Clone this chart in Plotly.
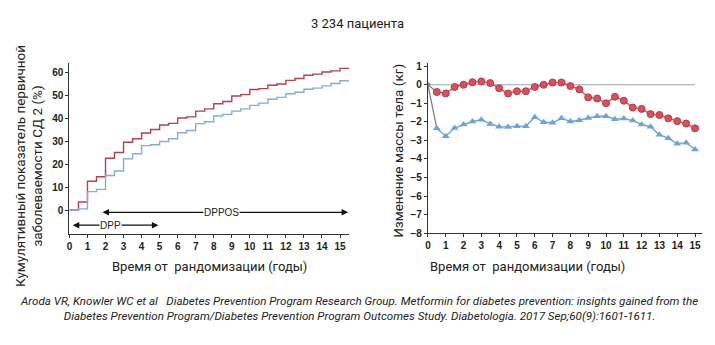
import plotly.graph_objects as go

# Cumulative type 2 diabetes incidence (%), Kaplan-Meier style steps every 0.5 year
years_steps = [i * 0.5 for i in range(31)] + [15.5]
placebo_incidence = [0, 3.5, 12.5, 14.5, 22.5, 25, 29.5, 31, 33.5, 35,
                     37, 37.7, 40, 40.5, 43, 44, 46.2, 47.2, 49.6, 50.2,
                     52.4, 52.8, 54.3, 54.8, 56.4, 57.2, 58.6, 59.1, 60, 60.5,
                     61.6]
metformin_incidence = [0, 0.5, 8, 9, 15, 17, 22.3, 24.5, 28, 28.4,
                       29.8, 31, 33.6, 34.6, 37.6, 38.4, 40.9, 41.6, 43, 44,
                       45.5, 46.5, 48.2, 49, 50.6, 51.2, 52.5, 53, 54, 55,
                       56.2]
placebo_incidence = placebo_incidence + [placebo_incidence[-1]]
metformin_incidence = metformin_incidence + [metformin_incidence[-1]]

# Body weight change (kg) every 0.5 year
years_weight = [i * 0.5 for i in range(31)]
placebo_weight = [0, -0.39, -0.47, -0.12, 0, 0.14, 0.18, 0.09, -0.19, -0.47,
                  -0.35, -0.35, -0.12, 0, 0.12, 0.12, -0.07, -0.25, -0.68, -0.74,
                  -1.0, -0.65, -0.86, -1.23, -1.3, -1.58, -1.63, -1.81, -1.96, -2.09,
                  -2.35]
metformin_weight = [0, -2.35, -2.77, -2.33, -2.14, -1.98, -1.88, -2.11, -2.26, -2.28,
                    -2.23, -2.23, -1.75, -2.02, -2.05, -1.81, -1.98, -1.91, -1.79, -1.7,
                    -1.7, -1.86, -1.82, -1.93, -2.14, -2.26, -2.7, -2.88, -3.18, -3.12,
                    -3.49]

x_ticks = list(range(16))
left_y_ticks = [0, 10, 20, 30, 40, 50, 60]
right_y_ticks = list(range(-8, 2))

RED = "#b0424c"
BLUE = "#86acd2"
RED_PT = "#d9505c"
BLUE_PT = "#6fa3d4"
NARROW = "Roboto, sans-serif"
TICKFONT = dict(family="Liberation Sans, Arial, sans-serif", size=10, color="#222",
                weight="bold")

fig = go.Figure()

fig.add_trace(go.Scatter(x=years_steps, y=placebo_incidence, mode="lines",
                         line=dict(color=RED, width=1.4, shape="hv"),
                         xaxis="x", yaxis="y", showlegend=False))
fig.add_trace(go.Scatter(x=years_steps, y=metformin_incidence, mode="lines",
                         line=dict(color=BLUE, width=1.4, shape="hv"),
                         xaxis="x", yaxis="y", showlegend=False))

# grey connectors from baseline to the first visit
for series in (placebo_weight, metformin_weight):
    fig.add_trace(go.Scatter(x=years_weight[:2], y=series[:2], mode="lines",
                             line=dict(color="#7a7a7a", width=1.2),
                             xaxis="x2", yaxis="y2", showlegend=False))

fig.add_trace(go.Scatter(x=years_weight[1:], y=placebo_weight[1:], mode="lines+markers",
                         line=dict(color=RED_PT, width=1.4),
                         marker=dict(symbol="circle", size=7, color=RED_PT,
                                     line=dict(color="#b53a45", width=1)),
                         xaxis="x2", yaxis="y2", showlegend=False))
fig.add_trace(go.Scatter(x=years_weight[1:], y=metformin_weight[1:], mode="lines+markers",
                         line=dict(color=BLUE_PT, width=1.4),
                         marker=dict(symbol="triangle-up", size=7, color=BLUE_PT),
                         xaxis="x2", yaxis="y2", showlegend=False))
fig.add_trace(go.Scatter(x=years_weight[:1], y=placebo_weight[:1], mode="markers",
                         marker=dict(symbol="circle", size=5, color="#8a8a8a"),
                         xaxis="x2", yaxis="y2", showlegend=False))

axis_common = dict(showgrid=False, zeroline=False, showline=True, linecolor="#333",
                   linewidth=1.2, ticks="outside", ticklen=3, tickcolor="#333",
                   tickfont=TICKFONT)

fig.update_layout(
    width=715, height=345,
    margin=dict(l=0, r=0, t=0, b=0),
    paper_bgcolor="white", plot_bgcolor="white",
    xaxis=dict(domain=[0.0933, 0.486], range=[0, 15.5], tickvals=x_ticks,
               anchor="y", **axis_common),
    yaxis=dict(domain=[0.311, 0.818], range=[-10.5, 63.8], tickvals=left_y_ticks,
               anchor="x", **axis_common),
    xaxis2=dict(domain=[0.5968, 0.982], range=[0, 15.4], tickvals=x_ticks,
                anchor="y2", **axis_common),
    yaxis2=dict(domain=[0.3139, 0.8183], range=[-8, 1.16], tickvals=right_y_ticks,
                anchor="x2", **axis_common),
)

# reference line at zero weight change
fig.add_shape(type="line", xref="x2", yref="y2", x0=0, x1=15, y0=0, y1=0,
              line=dict(color="#9aa5b0", width=1.2), layer="below")

# study-period arrows
for (x0, x1, yv, label, xl) in [(1.75, 15.45, -1.0, "DPPOS", 8.45),
                               (0.1, 4.93, -6.6, "DPP", 2.3)]:
    fig.add_annotation(x=x1, y=yv, ax=x0, ay=yv, xref="x", yref="y", axref="x", ayref="y",
                       text="", showarrow=True, arrowhead=2, startarrowhead=2,
                       arrowside="end+start", arrowsize=1, arrowwidth=1.3,
                       arrowcolor="#111")
    fig.add_annotation(x=xl, y=yv, xref="x", yref="y", text=label, showarrow=False,
                       bgcolor="white", borderpad=0,
                       font=dict(family="Liberation Sans, Arial, sans-serif", size=10,
                                 color="#222"))


def paper_text(text, px, py, size, angle=0):
    fig.add_annotation(x=px / 715, y=1 - py / 345, xref="paper", yref="paper",
                       xanchor="center", yanchor="middle", align="center", text=text,
                       showarrow=False, textangle=angle,
                       font=dict(family=NARROW, size=size, color="#222"))


paper_text("3 234 пациента", 356, 22, 13)
paper_text("Время от  рандомизации (годы)", 207, 271, 13)
paper_text("Время от  рандомизации (годы)", 527, 271, 13)
paper_text("Кумулятивный показатель первичной<br>заболеваемости СД 2 (%)", 26, 168, 13.5, -90)
paper_text("Изменение массы тела (кг)", 397, 152, 13.5, -90)
paper_text("<i>Aroda VR, Knowler WC et al   Diabetes Prevention Program Research Group. "
           "Metformin for diabetes prevention: insights gained from the<br>"
           "Diabetes Prevention Program/Diabetes Prevention Program Outcomes Study. "
           "Diabetologia. 2017 Sep;60(9):1601-1611.</i>", 357, 314, 11.6)

fig.write_html("out.html")
